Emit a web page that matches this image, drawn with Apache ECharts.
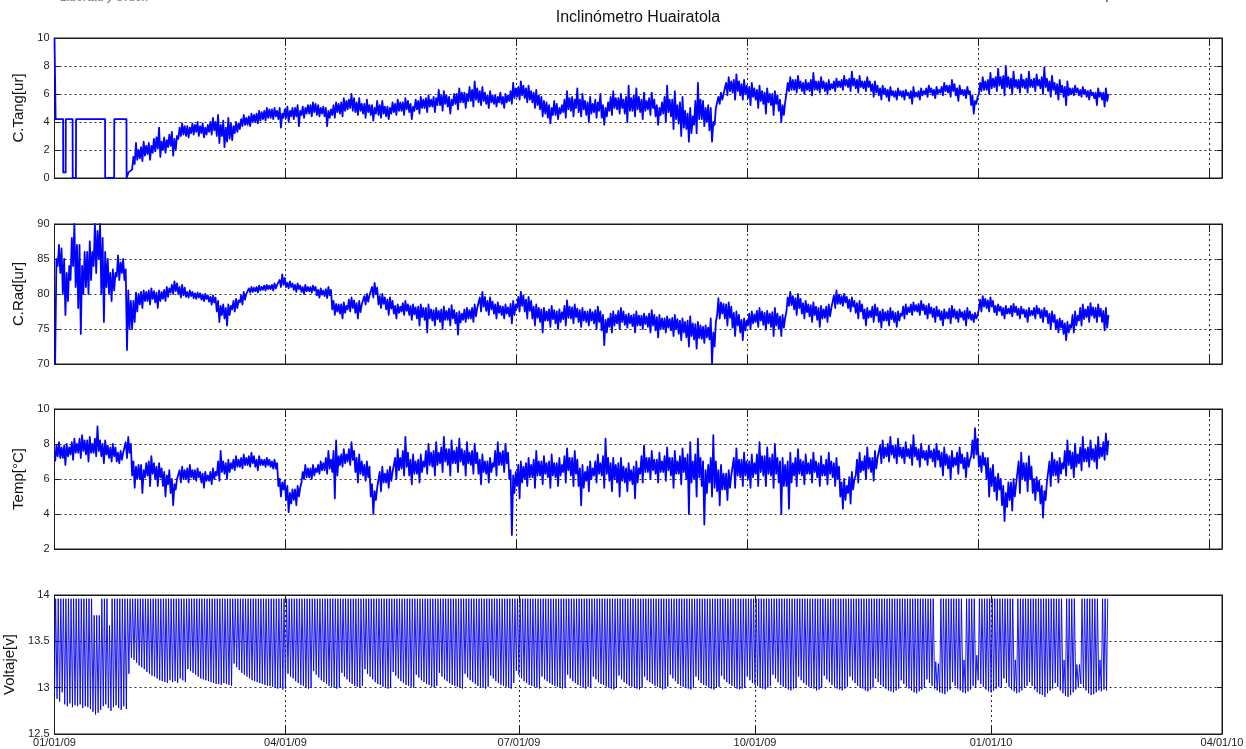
<!DOCTYPE html>
<html>
<head>
<meta charset="utf-8">
<title>Inclinómetro Huairatola</title>
<script src="https://cdn.jsdelivr.net/npm/echarts@6/dist/echarts.min.js"></script>
<style>
  html, body { margin: 0; padding: 0; background: #ffffff; }
  #chart { width: 1246px; height: 749px; }
</style>
</head>
<body>
<div id="chart"></div>
<script>
// ---- time axis: days counted from 01/01/09 ----
const xMaxDay = 455;                              // 04/01/10
const gridStepDays = 90;                          // grid spacing on the upper panels
const dateTickDays = [0, 90, 181, 273, 365, 455];
const dateTickLabels = ['01/01/09', '04/01/09', '07/01/09', '10/01/09', '01/01/10', '04/01/10'];

// ---- C.Tang[ur]: early step readings as [day, value] ----
const tangSteps = [
  [0, 10], [0.45, 10], [0.45, 4.2], [3.35, 4.2], [3.4, 0.4], [4.35, 0.4], [4.4, 4.2],
  [7.05, 4.2], [7.1, 0], [8.35, 0], [8.4, 4.2], [19.7, 4.2], [19.75, 0], [23.25, 0],
  [23.3, 4.2], [28.05, 4.2], [28.1, 0], [28.8, 0.4]
];
// C.Tang[ur] daily low / high from day 30
const tangStart = 30;
const tangValues = [
  0.6,1.5, 1.0,2.5, 1.3,2.0, 1.4,2.2, 1.2,2.6, 1.6,2.3, 1.7,2.5, 1.3,2.3, 1.8,2.8, 1.9,2.9,
  2.1,3.6, 1.5,2.6, 2.0,2.9, 1.8,2.7, 2.2,3.1, 2.3,3.3, 1.6,2.8, 2.0,3.0, 2.8,3.6, 3.0,3.9,
  3.1,3.7, 3.0,3.7, 2.9,3.6, 3.2,3.9, 3.1,3.8, 3.3,4.0, 3.0,3.7, 3.2,3.9, 2.9,3.6, 3.1,3.8,
  3.3,4.0, 3.1,4.3, 3.4,4.0, 3.0,4.5, 2.5,3.8, 3.0,4.1, 2.2,3.6, 2.6,4.3, 2.8,3.9, 2.7,3.7,
  3.2,4.0, 3.3,3.9, 3.5,4.2, 3.7,4.5, 3.8,4.3, 3.8,4.4, 3.7,4.6, 4.0,4.5, 4.0,4.6, 3.9,4.8,
  4.1,4.7, 4.2,4.8, 4.1,5.0, 4.3,4.9, 4.3,4.9, 4.2,5.0, 4.4,4.8, 4.2,5.0, 3.6,4.6, 4.3,4.9,
  4.3,5.1, 4.0,4.8, 4.4,5.0, 4.2,5.0, 4.4,5.2, 3.7,4.8, 4.5,5.1, 4.3,5.0, 4.6,5.2, 4.6,5.2,
  4.4,5.4, 4.7,5.3, 4.5,5.2, 4.4,5.0, 4.6,5.1, 4.4,5.0, 3.7,4.8, 4.3,4.9, 4.5,5.2, 4.3,5.4,
  4.7,5.3, 4.6,5.4, 4.4,5.7, 4.8,5.5, 4.9,5.6, 5.0,6.0, 4.8,5.7, 4.7,5.4, 4.5,5.7, 4.8,5.3,
  4.6,5.3, 4.3,5.6, 4.7,5.2, 4.5,5.2, 4.1,5.0, 4.6,5.5, 4.5,5.2, 4.3,5.5, 4.6,5.1, 4.4,5.1,
  4.2,5.0, 4.6,5.4, 4.7,5.3, 4.5,5.6, 4.8,5.4, 4.8,5.4, 4.5,5.7, 4.9,5.5, 4.7,5.3, 4.2,5.1,
  4.8,5.6, 4.9,5.5, 4.6,5.8, 5.0,5.6, 5.0,5.7, 4.7,5.9, 5.1,5.6, 5.1,5.8, 4.7,5.7, 5.2,6.3,
  5.2,5.9, 4.8,6.2, 5.3,5.9, 5.1,5.8, 4.6,5.6, 5.2,6.0, 5.3,6.0, 4.9,6.4, 5.4,6.1, 5.4,6.1,
  5.0,6.0, 5.5,6.5, 5.5,6.3, 5.1,6.9, 5.6,6.4, 5.4,6.2, 5.2,6.5, 5.5,6.1, 5.3,5.9, 5.0,6.2,
  5.4,5.9, 5.3,5.9, 5.1,5.8, 5.4,6.1, 5.3,5.8, 5.0,6.0, 5.4,5.9, 5.5,6.2, 5.3,6.8, 5.7,6.4,
  5.8,6.5, 5.6,6.9, 5.9,6.6, 5.7,6.4, 5.4,6.6, 5.6,6.2, 5.4,6.1, 5.0,6.3, 5.2,5.9, 4.9,5.8,
  4.4,5.5, 4.6,5.4, 4.3,5.2, 3.9,5.0, 4.5,5.5, 4.5,5.3, 4.2,5.0, 4.6,5.2, 4.7,5.6, 4.3,6.2,
  4.9,5.7, 4.8,5.8, 4.4,5.6, 5.0,6.4, 4.7,5.6, 4.4,6.0, 4.9,5.5, 4.5,5.4, 4.0,5.8, 4.6,5.3,
  4.7,5.6, 4.3,5.4, 4.8,6.0, 4.3,5.2, 3.8,5.0, 4.4,5.4, 4.8,5.8, 4.5,6.2, 5.0,5.7, 4.9,5.7,
  4.6,6.0, 5.0,5.6, 4.6,5.8, 4.0,6.6, 4.8,5.7, 4.8,5.9, 4.4,6.4, 4.9,5.8, 4.7,5.6, 4.2,6.1,
  4.8,5.5, 4.9,5.7, 4.5,6.1, 5.0,5.6, 4.4,5.2, 3.8,5.0, 4.5,5.4, 4.6,5.8, 4.0,6.6, 4.7,5.6,
  4.4,5.6, 3.5,6.2, 4.2,5.2, 3.9,5.4, 3.0,5.8, 3.6,4.8, 3.5,4.6, 2.6,5.0, 3.2,4.4, 3.8,5.5,
  3.2,6.8, 4.2,5.6, 4.2,5.5, 3.7,5.0, 4.0,5.2, 3.4,5.0, 2.6,4.0, 3.8,5.0, 5.0,5.8, 5.3,6.1,
  5.6,6.0, 6.0,6.8, 5.9,7.2, 6.2,6.9, 6.1,7.0, 5.6,7.4, 6.2,6.9, 5.9,6.7, 5.6,7.0, 6.0,6.6,
  5.7,6.5, 5.2,6.8, 5.8,6.4, 5.6,6.3, 5.0,6.6, 5.5,6.2, 5.3,6.1, 4.6,6.4, 5.4,6.0, 5.2,6.0,
  4.5,6.2, 5.3,5.9, 4.8,5.6, 4.0,5.2, 4.5,5.4, 6.0,6.8, 6.2,7.2, 6.3,7.0, 6.3,7.0, 6.1,7.3,
  6.4,6.9, 6.2,6.8, 6.0,7.0, 6.3,6.8, 6.2,7.0, 5.9,7.5, 6.3,6.9, 6.3,6.9, 6.1,7.2, 6.4,6.9,
  6.2,6.8, 6.0,7.0, 6.3,6.7, 6.4,6.9, 6.2,7.1, 6.5,6.9, 6.5,7.0, 6.3,7.3, 6.6,7.0, 6.5,7.1,
  6.2,7.6, 6.6,7.1, 6.4,7.0, 6.1,7.3, 6.5,6.9, 6.4,6.9, 6.2,7.2, 6.5,6.9, 6.2,6.7, 5.8,6.9,
  6.1,6.6, 5.9,6.4, 5.6,6.6, 6.0,6.4, 5.8,6.3, 5.5,6.5, 5.9,6.2, 5.8,6.2, 5.6,6.4, 5.9,6.2,
  5.8,6.2, 5.6,6.3, 5.9,6.1, 5.7,6.2, 5.3,6.5, 5.8,6.1, 5.8,6.2, 5.6,6.4, 5.9,6.2, 6.0,6.4,
  5.8,6.6, 6.1,6.4, 5.9,6.3, 5.7,6.5, 6.0,6.3, 6.1,6.5, 5.9,6.8, 6.2,6.6, 6.1,6.6, 5.8,7.0,
  6.2,6.7, 5.9,6.4, 5.5,6.6, 6.0,6.3, 5.9,6.3, 5.7,6.5, 6.0,6.2, 5.2,5.9, 4.6,5.5, 5.3,5.8,
  6.0,6.8, 6.2,7.2, 6.3,6.9, 6.3,7.0, 6.0,7.5, 6.4,7.1, 6.5,7.2, 6.2,7.8, 6.6,7.2, 6.4,7.3,
  5.9,8.0, 6.5,7.2, 6.4,7.1, 6.0,7.6, 6.5,7.0, 6.4,7.0, 6.1,7.4, 6.5,7.0, 6.4,7.1, 6.1,7.6,
  6.5,7.0, 6.5,7.1, 6.2,7.4, 6.6,7.0, 6.4,7.2, 6.0,7.9, 6.5,7.1, 6.2,6.9, 5.8,7.3, 6.3,6.8,
  6.0,6.7, 5.6,7.0, 6.1,6.6, 5.8,6.5, 5.2,6.9, 5.9,6.4, 6.0,6.4, 5.9,6.6, 6.1,6.4, 5.9,6.3,
  5.8,6.5, 6.0,6.3, 5.8,6.2, 5.6,6.3, 5.9,6.1, 5.7,6.1, 5.2,6.4, 5.8,6.1, 5.6,6.1, 5.1,6.4,
  5.5,6.0
];

// ---- C.Rad[ur] daily low / high from day 0 ----
const radStart = 0;
const radValues = [
  70,85, 84,87, 83,86.5, 80,85, 77,83, 79,84, 82,88, 84,90, 81,87, 78,87,
  74.3,84, 80,86, 81,86, 80,87.5, 82,86, 84,90, 83,89, 85,90, 80,88, 76,86,
  81,85, 80,83, 79,83.5, 80.5,83, 82.5,85.5, 82,84.5, 83,85, 82,83.5, 72,80.5, 75,79,
  75,79, 76,80.2, 77.5,80, 78.5,80.3, 78,80.5, 79,80.3, 79,80.5, 78.5,80.8, 79.3,80.4, 78.8,80.2,
  78,80.5, 79,80.3, 79.3,80.6, 79,81, 79.6,80.8, 80.2,81.3, 80,81.8, 80.4,81.5, 80,81, 79.5,81.3,
  79.8,80.9, 79.6,80.3, 79.5,80.5, 79.7,80.3, 79.4,80.1, 79.3,80.2, 79.5,80.1, 79.2,79.9, 79,80, 79.3,79.8,
  78.9,79.6, 78.5,79.8, 78.8,79.5, 77.5,79, 76,78.3, 77,78.5, 76.5,78, 75.5,78.5, 77,78.3, 77.8,79,
  77.5,79.3, 78,79.1, 78.8,79.8, 78.5,80.3, 79.2,80, 80,80.8, 80.2,81, 80.3,80.9, 80.4,81, 80.2,81.2,
  80.5,81, 80.6,81.2, 80.5,81.3, 80.7,81.2, 80.7,81.3, 80.5,81.5, 80.8,81.3, 81.2,82, 81,82.8, 81.3,82.3,
  81,81.6, 80.8,81.8, 81,81.5, 80.6,81.3, 80.3,81.5, 80.7,81.2, 80.3,81, 80,81.3, 80.4,81, 80.4,81,
  80.2,81.2, 80.5,81, 79.8,80.6, 79.5,80.8, 79.9,80.5, 79.7,80.7, 79.4,81, 79.8,80.6, 77.8,79, 77,78.6,
  77.5,78.5, 77.2,78.5, 76.5,78.8, 77.3,78.3, 77.8,79.2, 77.5,79.5, 78,79.1, 77.3,78.7, 76.5,79, 77.4,78.5,
  78.6,79.7, 78.5,80, 78.9,79.8, 79.8,81, 79.5,81.6, 80,80.9, 78.5,79.7, 78,80, 78.6,79.5, 77.8,79.2,
  77,79.5, 77.9,79, 77.2,78.3, 76.5,78.5, 77.3,78.2, 77.5,78.7, 77,79, 77.6,78.5, 77,78.3, 76.3,78.5,
  77.1,78.1, 76.5,78.2, 75.5,78.5, 76.7,78, 76.3,78, 74.5,78.5, 76.5,77.8, 76.2,77.7, 75.5,78, 76.4,77.6,
  76,77.8, 75,78.2, 76.3,77.6, 76.3,77.9, 75.5,78.4, 76.5,77.7, 75.8,77.3, 74.2,77.5, 75.9,77.2, 76.3,77.8,
  76,78, 76.5,77.7, 76.5,78, 76,78.5, 76.8,78, 78,79.5, 77.5,80.3, 78.2,79.6, 77.6,79, 77,79.5,
  77.8,78.9, 77.2,78.5, 76.5,78.8, 77.3,78.3, 77,78.2, 76.5,78.5, 77.2,78.1, 76.8,78.6, 75.8,79, 77,78.5,
  78,79.6, 77.5,80.3, 78.3,79.8, 77.5,79.2, 76.5,79.6, 77.6,79, 76.5,78.2, 75.5,78.5, 76.6,78, 76,77.8,
  74.5,78, 76.2,77.5, 76.2,77.8, 75.3,78.3, 76.4,77.7, 75.8,77.5, 75,77.8, 76,77.4, 76.4,78.3, 75.5,79.1,
  76.6,78.2, 76.5,78.1, 75.8,78.5, 76.7,77.9, 76,77.7, 75.3,78, 76.2,77.5, 76,77.5, 75.5,77.8, 76.2,77.4,
  75.8,77.7, 75,78.2, 76,77.5, 74.8,77, 72.7,76.3, 74.5,76.5, 75.3,77.2, 74.5,77.5, 75.5,77, 75.8,77.6,
  75,78, 76,77.5, 75.6,77, 75.2,77.2, 75.8,76.9, 75.4,77.1, 74.5,77.5, 75.5,76.9, 75.5,76.9, 75,77.2,
  75.7,76.8, 75.3,77.2, 74.5,77.7, 75.5,77, 74.8,76.7, 73.8,77, 75,76.5, 75,76.5, 74.5,76.8, 75.2,76.4,
  74.8,76.6, 74,77, 75,76.4, 74.3,76.2, 73.4,76.5, 74.5,76, 73.8,76.2, 72.5,76.8, 74,75.8, 73.5,75.7,
  72.2,76, 73.7,75.5, 73.6,75.3, 73,75.5, 73.8,75.2, 73.5,76.5, 70,74.5, 72.5,76, 77,79.4, 76.5,78.8,
  77.2,78.6, 76.5,78.5, 75.5,78.8, 76.6,78.2, 75.2,77.3, 74,77.5, 75.5,77, 74.5,76.3, 73.4,76.5, 74.8,76.2,
  75.5,77.2, 75,77.5, 75.8,77.1, 76,77.6, 75.3,78, 76.2,77.5, 75.6,77.3, 74.9,77.6, 75.8,77.2, 75.3,77.4,
  74,78, 75.5,77.2, 75,76.8, 74,77, 75.2,76.6, 77.5,79.5, 78.3,80.3, 78.4,79.7, 77.8,79.4, 77,80,
  78,79.3, 77.2,78.7, 76.5,79, 77.4,78.5, 76.8,78.4, 76,78.8, 77,78.2, 76.3,78, 75.3,78.3, 76.5,77.8,
  76.6,78.2, 76,78.5, 76.8,78, 78.2,79.8, 78,80.5, 78.6,79.9, 78.6,79.7, 78.3,80, 78.8,79.6, 78,79.2,
  77.5,79.5, 78.2,79, 77.3,78.7, 76.5,79, 77.5,78.5, 76.5,77.8, 75.5,78, 76.6,77.6, 76.7,78.2, 76,78.5,
  76.9,78, 76,77.5, 75.2,77.8, 76.2,77.4, 76.2,77.6, 75.5,78, 76.4,77.5, 76,77.3, 75.3,77.5, 76.2,77.2,
  76.9,78.2, 76.5,78.5, 77.1,78.1, 77.4,78.5, 77,78.8, 77.6,78.4, 77.5,78.6, 77,79, 77.7,78.5, 77.1,78.3,
  76.5,78.6, 77.2,78.1, 76.7,77.9, 76,78.2, 76.8,77.7, 76.3,77.5, 75.5,77.8, 76.5,77.4, 76.5,77.9, 75.8,78.3,
  76.7,77.8, 76.5,77.5, 76,77.8, 76.7,77.4, 76.3,77.6, 75.5,78, 76.5,77.5, 76.3,77.1, 76,77.3, 76.5,77,
  77.8,79.2, 77.5,79.7, 78.2,79.3, 78,79.1, 77.5,79.5, 78.2,79, 77.4,78.3, 77,78.5, 77.6,78.2, 77,78,
  76.5,78.3, 77.2,77.9, 77.2,78.3, 76.8,78.6, 77.4,78.2, 77,77.9, 76.5,78.2, 77.2,77.8, 76.7,77.7, 76,78,
  76.9,77.6, 77,78, 76.5,78.3, 77.2,77.9, 76.6,77.7, 76,78, 76.8,77.6, 75.8,77.2, 75,77.5, 76,77,
  75,76.3, 74.5,76.5, 75.2,76.2, 74.3,75.8, 73.4,76, 74.5,75.6, 75.2,77, 74.5,77.5, 75.5,76.9, 76.2,78,
  75.5,78.5, 76.4,77.8, 76.7,78.2, 76,78.7, 76.9,78.1, 76.6,78, 76,78.5, 76.8,77.9, 76,77.6, 74.8,78,
  75.2,77
];

// ---- Temp[°C] daily low / high from day 0 ----
const tempStart = 0;
const tempValues = [
  7.0,7.9, 7.3,8.1, 7.2,7.8, 7.2,7.9, 6.8,8.0, 7.3,7.8, 7.4,8.1, 7.1,8.3, 7.5,8.0, 7.5,8.3,
  7.2,8.5, 7.6,8.2, 7.4,8.2, 7.0,8.4, 7.5,8.0, 7.5,8.3, 7.3,9.0, 7.6,8.2, 7.3,8.0, 6.9,8.2,
  7.4,7.9, 7.2,7.8, 7.0,8.0, 7.3,7.8, 7.0,7.5, 6.9,7.6, 7.1,7.5, 7.4,8.1, 7.2,8.4, 7.5,8.0,
  6.2,7.0, 5.5,6.7, 6.0,6.8, 6.0,6.8, 5.2,6.5, 6.1,6.9, 6.2,7.0, 5.6,7.3, 6.3,6.9, 6.0,6.7,
  5.6,6.9, 6.1,6.6, 5.6,6.4, 5.0,6.2, 5.7,6.5, 5.2,6.0, 4.5,5.7, 5.4,6.0, 5.9,6.5, 5.8,6.7,
  6.0,6.5, 6.0,6.6, 5.8,6.8, 6.1,6.5, 6.0,6.5, 5.9,6.6, 6.1,6.4, 5.8,6.3, 5.5,6.4, 5.9,6.2,
  5.9,6.4, 5.7,6.6, 6.0,6.4, 6.2,7.0, 5.9,7.6, 6.4,7.0, 6.3,6.9, 6.0,7.1, 6.4,6.9, 6.6,7.1,
  6.5,7.3, 6.7,7.1, 6.7,7.2, 6.6,7.4, 6.8,7.2, 6.8,7.3, 6.7,7.5, 6.9,7.3, 6.7,7.1, 6.5,7.3,
  6.8,7.1, 6.8,7.1, 6.7,7.2, 6.8,7.1, 6.7,7.0, 6.6,7.1, 6.6,6.9, 5.6,6.0, 5.0,5.8, 5.4,5.9,
  4.8,5.6, 4.1,5.2, 4.6,5.4, 4.8,5.4, 4.5,5.6, 5.0,5.5, 5.8,6.4, 6.0,6.8, 6.1,6.6, 6.1,6.6,
  6.0,6.8, 6.2,6.6, 6.4,6.8, 6.3,7.0, 6.5,6.9, 6.5,7.2, 6.3,7.6, 6.6,7.1, 6.4,7.6, 4.9,8.2,
  6.2,7.3, 6.8,7.4, 6.7,7.7, 6.9,7.4, 7.0,7.7, 6.8,8.1, 7.1,7.6, 6.4,7.2, 5.8,7.4, 6.3,7.0,
  6.2,6.8, 5.9,7.0, 6.1,6.7, 5.0,5.7, 4.0,5.3, 4.8,5.5, 5.6,6.4, 5.3,6.7, 5.8,6.3, 5.8,6.5,
  5.5,6.7, 5.9,6.4, 6.3,7.2, 6.0,7.7, 6.5,7.2, 6.6,7.6, 6.2,8.4, 6.7,7.5, 6.2,7.1, 5.7,7.4,
  6.3,7.0, 6.3,7.1, 5.8,7.4, 6.4,7.0, 6.7,7.6, 6.3,8.0, 6.8,7.5, 6.7,7.6, 6.2,8.1, 6.8,7.5,
  6.9,7.8, 6.4,8.4, 7.0,7.7, 6.8,7.7, 6.2,8.2, 6.9,7.6, 6.9,7.8, 6.4,8.3, 7.0,7.7, 6.8,7.6,
  6.2,8.1, 6.9,7.5, 6.8,7.6, 6.3,8.0, 6.9,7.5, 6.3,7.1, 5.7,7.4, 6.4,7.0, 6.3,7.0, 5.8,7.2,
  6.4,6.9, 6.7,7.6, 6.2,8.1, 6.8,7.5, 6.8,7.6, 6.4,8.0, 6.9,7.5, 6.0,6.5, 2.8,6.2, 5.2,6.4,
  5.6,6.8, 4.9,7.0, 5.8,6.7, 6.0,6.9, 5.6,7.2, 6.1,6.8, 6.1,7.1, 5.5,7.6, 6.2,7.0, 6.2,7.0,
  5.7,7.3, 6.3,6.9, 6.1,7.0, 5.5,7.4, 6.2,6.9, 6.1,6.9, 5.6,7.2, 6.2,6.8, 6.4,7.3, 5.8,7.75,
  6.5,7.2, 6.2,7.2, 5.6,7.6, 6.3,7.1, 5.6,6.6, 4.5,6.8, 5.5,6.4, 5.9,6.7, 5.3,7.0, 6.0,6.6,
  6.2,7.0, 5.8,7.4, 6.3,6.9, 6.2,7.3, 5.5,8.3, 6.3,7.2, 5.9,6.9, 5.3,7.2, 6.0,6.8, 5.8,6.9,
  5.0,7.2, 5.9,6.7, 5.8,6.6, 5.3,6.9, 5.9,6.5, 5.7,6.7, 4.9,7.0, 5.8,6.6, 6.3,7.3, 5.8,7.9,
  6.4,7.2, 6.4,7.2, 6.0,7.6, 6.5,7.1, 6.3,7.1, 5.8,7.5, 6.4,7.0, 6.4,7.3, 5.9,7.8, 6.5,7.2,
  6.2,7.2, 5.5,7.6, 6.3,7.0, 6.3,7.3, 5.7,7.75, 6.4,7.2, 6.0,7.4, 4.0,8.1, 5.8,7.0, 6.0,7.4,
  5.0,8.3, 6.1,7.2, 5.6,7.0, 3.4,6.5, 5.2,6.8, 5.8,7.2, 5.0,8.5, 5.5,7.0, 5.3,6.5, 4.5,6.8,
  5.4,6.3, 5.4,6.3, 4.8,6.5, 5.5,6.2, 6.1,7.2, 5.5,7.75, 6.2,7.1, 6.1,7.1, 5.6,7.5, 6.2,7.0,
  6.0,7.0, 5.5,7.4, 6.1,6.9, 6.3,7.4, 5.6,8.1, 6.4,7.3, 6.2,7.3, 5.6,7.8, 6.3,7.2, 6.2,7.4,
  5.5,8.0, 6.3,7.2, 5.8,7.0, 4.0,7.2, 5.6,6.8, 5.6,7.0, 4.3,7.5, 5.8,6.9, 6.2,7.2, 5.6,7.7,
  6.3,7.1, 6.2,7.0, 5.7,7.4, 6.3,6.9, 6.3,7.1, 5.8,7.5, 6.4,7.0, 6.1,6.9, 5.6,7.3, 6.2,6.8,
  6.2,7.1, 5.7,7.5, 6.3,7.0, 6.1,6.9, 5.6,7.2, 6.0,6.7, 5.0,5.8, 4.3,6.0, 4.8,5.6, 5.2,6.1,
  4.6,6.4, 5.4,6.0, 6.2,7.1, 5.8,7.5, 6.4,7.0, 6.5,7.3, 6.0,7.8, 6.6,7.2, 6.4,7.2, 5.9,7.6,
  6.6,7.2, 7.1,7.9, 6.9,8.2, 7.2,7.8, 7.3,8.0, 7.0,8.4, 7.4,7.9, 7.2,7.9, 6.9,8.3, 7.3,7.8,
  7.2,7.8, 6.9,8.1, 7.3,7.7, 7.2,7.9, 6.8,8.5, 7.3,7.8, 7.1,7.7, 6.7,8.0, 7.2,7.6, 7.1,7.6,
  6.8,7.9, 7.2,7.6, 7.0,7.7, 6.7,8.0, 7.1,7.6, 6.7,7.5, 6.2,7.8, 6.8,7.4, 6.6,7.3, 6.0,7.6,
  6.7,7.2, 6.8,7.5, 6.3,7.8, 6.9,7.4, 6.6,7.2, 6.1,7.5, 6.7,7.1, 7.3,8.2, 7.2,8.9, 7.4,8.3,
  6.7,7.3, 6.4,7.5, 6.8,7.2, 6.0,7.2, 5.0,6.6, 5.6,6.8, 5.3,6.1, 4.8,6.3, 5.4,6.0, 4.5,5.6,
  3.6,5.2, 4.4,5.8, 4.8,5.8, 4.2,6.0, 5.0,5.7, 5.8,7.0, 5.2,7.5, 6.0,6.9, 5.9,6.9, 5.3,7.3,
  6.0,6.7, 5.2,6.0, 4.8,6.1, 5.3,5.9, 4.6,5.6, 3.8,5.3, 4.8,5.8, 5.9,7.0, 5.6,7.5, 6.2,7.1,
  6.2,7.0, 5.8,7.2, 6.3,6.9, 6.6,7.6, 6.2,8.2, 6.8,7.6, 6.6,7.5, 6.1,8.0, 6.7,7.4, 6.9,7.8,
  6.5,8.4, 7.0,7.7, 7.0,7.8, 6.7,8.2, 7.1,7.7, 7.0,7.9, 6.6,8.4, 7.2,7.8, 7.3,8.1, 7.1,8.6,
  7.4,8.2
];

// ---- Voltaje[v]: daily low and daily charge peak, day 0 to day 410 ----
const voltLow = [
  12.92,12.88,12.85,12.95,12.82,12.80,12.83,12.79,12.81,12.80,
  12.82,12.78,12.80,12.79,12.77,12.74,12.71,12.73,12.76,12.80,
  12.82,12.78,12.75,12.79,12.81,12.78,12.76,12.80,12.77,13.15,
  13.32,13.30,13.27,13.24,13.22,13.20,13.17,13.15,13.13,13.12,
  13.10,13.08,13.07,13.06,13.05,13.08,13.06,13.07,13.05,13.10,
  13.08,13.06,13.20,13.18,13.16,13.14,13.12,13.10,13.09,13.08,
  13.07,13.06,13.05,13.04,13.04,13.03,13.05,13.04,13.03,13.02,
  13.26,13.22,13.19,13.16,13.14,13.12,13.10,13.08,13.07,13.06,
  13.05,13.04,13.03,13.02,13.02,13.01,13.00,12.99,13.00,12.98,
  12.99,13.15,13.12,13.10,13.07,13.05,13.03,13.02,13.00,12.99,
  13.00,13.18,13.14,13.11,13.08,13.06,13.04,13.02,13.01,13.00,
  12.99,13.00,13.16,13.12,13.09,13.06,13.04,13.02,13.01,13.00,
  13.02,13.20,13.15,13.12,13.09,13.06,13.04,13.03,13.01,13.00,
  12.99,13.00,13.17,13.13,13.10,13.07,13.05,13.03,13.02,13.01,
  13.00,13.14,13.11,13.08,13.06,13.04,13.03,13.01,13.00,13.02,
  13.16,13.12,13.09,13.07,13.05,13.03,13.02,13.01,13.00,12.99,
  13.15,13.11,13.08,13.06,13.04,13.02,13.01,13.00,12.99,13.01,
  13.13,13.10,13.07,13.05,13.03,13.02,13.01,13.00,12.99,13.05,
  13.18,13.14,13.10,13.07,13.05,13.03,13.02,13.01,13.00,12.99,
  13.12,13.09,13.07,13.05,13.03,13.02,13.01,13.00,12.99,13.00,
  13.14,13.10,13.07,13.05,13.03,13.02,13.00,12.99,13.01,13.00,
  13.12,13.09,13.06,13.04,13.03,13.01,13.00,12.99,12.98,13.00,
  13.13,13.09,13.06,13.04,13.02,13.01,13.00,12.99,12.98,13.00,
  13.12,13.08,13.06,13.04,13.02,13.01,13.00,12.98,12.99,13.01,
  13.14,13.10,13.07,13.04,13.02,13.01,13.00,12.99,12.98,13.00,
  13.12,13.08,13.05,13.03,13.02,13.00,12.99,12.98,13.00,13.01,
  13.13,13.09,13.06,13.04,13.02,13.01,12.99,12.98,12.99,13.00,
  13.12,13.08,13.05,13.03,13.02,13.00,12.99,12.98,13.00,13.02,
  13.14,13.10,13.06,13.03,13.01,13.00,12.98,12.97,12.99,13.00,
  13.12,13.08,13.05,13.03,13.01,13.00,12.99,12.97,12.98,13.00,
  13.13,13.09,13.06,13.03,13.01,12.99,12.98,12.97,12.99,13.01,
  13.12,13.08,13.05,13.02,13.00,12.99,12.97,12.96,12.98,13.00,
  13.10,13.06,13.03,13.01,12.99,12.97,12.96,12.95,12.97,12.99,
  13.08,13.04,13.01,12.99,12.97,12.95,12.94,12.96,12.98,13.00,
  13.09,13.05,13.02,12.99,12.97,12.95,12.94,12.93,12.96,12.98,
  13.06,13.02,12.99,12.97,12.95,12.94,12.96,12.98,13.02,13.00,
  13.08,13.04,13.01,12.98,12.96,12.95,12.97,12.99,13.01,13.00,
  13.10,13.05,13.01,12.98,12.96,12.94,12.95,12.97,13.00,13.02,
  13.06,13.02,12.98,12.95,12.93,12.92,12.90,12.94,12.97,12.99,
  13.05,13.01,12.97,12.94,12.91,12.90,12.92,12.95,12.98,13.00,
  13.04,13.00,12.97,12.94,12.92,12.93,12.95,12.97,12.96,12.98,
  12.97
];
const voltPeak = [
  13.96,13.96,13.96,13.96,13.96,13.96,13.96,13.96,13.96,13.96,
  13.96,13.96,13.96,13.96,13.96,13.78,13.78,13.78,13.96,13.96,
  13.96,13.67,13.96,13.96,13.96,13.96,13.96,13.96,13.96,13.96,
  13.96,13.96,13.96,13.96,13.96,13.96,13.96,13.96,13.96,13.96,
  13.96,13.96,13.96,13.96,13.96,13.96,13.96,13.96,13.96,13.96,
  13.96,13.96,13.96,13.96,13.96,13.96,13.96,13.96,13.96,13.96,
  13.96,13.96,13.96,13.96,13.96,13.96,13.96,13.96,13.96,13.96,
  13.96,13.96,13.96,13.96,13.96,13.96,13.96,13.96,13.96,13.96,
  13.96,13.96,13.96,13.96,13.96,13.96,13.96,13.96,13.96,13.96,
  13.96,13.96,13.96,13.96,13.96,13.96,13.96,13.96,13.96,13.96,
  13.96,13.96,13.96,13.96,13.96,13.96,13.96,13.96,13.96,13.96,
  13.96,13.96,13.96,13.96,13.96,13.96,13.96,13.96,13.96,13.96,
  13.96,13.96,13.96,13.96,13.96,13.96,13.96,13.96,13.96,13.96,
  13.96,13.96,13.96,13.96,13.96,13.96,13.96,13.96,13.96,13.96,
  13.96,13.96,13.96,13.96,13.96,13.96,13.96,13.96,13.96,13.96,
  13.96,13.96,13.96,13.96,13.96,13.96,13.96,13.96,13.96,13.96,
  13.96,13.96,13.96,13.96,13.96,13.96,13.96,13.96,13.96,13.96,
  13.96,13.96,13.96,13.96,13.96,13.96,13.96,13.96,13.96,13.96,
  13.96,13.96,13.96,13.96,13.96,13.96,13.96,13.96,13.96,13.96,
  13.96,13.96,13.96,13.96,13.96,13.96,13.96,13.96,13.96,13.96,
  13.96,13.96,13.96,13.96,13.96,13.96,13.96,13.96,13.96,13.96,
  13.96,13.96,13.96,13.96,13.96,13.96,13.96,13.96,13.96,13.96,
  13.96,13.96,13.96,13.96,13.96,13.96,13.96,13.96,13.96,13.96,
  13.96,13.96,13.96,13.96,13.96,13.96,13.96,13.96,13.96,13.96,
  13.96,13.96,13.96,13.96,13.96,13.96,13.96,13.96,13.96,13.96,
  13.96,13.96,13.96,13.96,13.96,13.96,13.96,13.96,13.96,13.96,
  13.96,13.96,13.96,13.96,13.96,13.96,13.96,13.96,13.96,13.96,
  13.96,13.96,13.96,13.96,13.96,13.96,13.96,13.96,13.96,13.96,
  13.96,13.96,13.96,13.96,13.96,13.96,13.96,13.96,13.96,13.96,
  13.96,13.96,13.96,13.96,13.96,13.96,13.96,13.96,13.96,13.96,
  13.96,13.96,13.96,13.96,13.96,13.96,13.96,13.96,13.96,13.96,
  13.96,13.96,13.96,13.96,13.96,13.96,13.96,13.96,13.96,13.96,
  13.96,13.96,13.96,13.96,13.96,13.96,13.96,13.96,13.96,13.96,
  13.96,13.96,13.96,13.96,13.96,13.96,13.96,13.96,13.96,13.96,
  13.96,13.96,13.96,13.28,13.26,13.96,13.96,13.96,13.96,13.96,
  13.96,13.96,13.96,13.96,13.30,13.96,13.96,13.96,13.96,13.35,
  13.96,13.96,13.96,13.96,13.96,13.96,13.96,13.96,13.96,13.96,
  13.96,13.96,13.96,13.96,13.30,13.96,13.96,13.96,13.96,13.96,
  13.96,13.96,13.96,13.96,13.96,13.96,13.96,13.96,13.96,13.96,
  13.96,13.96,13.96,13.30,13.96,13.96,13.96,13.96,13.25,13.25,
  13.96,13.96,13.96,13.96,13.96,13.96,13.96,13.30,13.96,13.96,
  13.96
];

// ---- build [day, value] series ----
function sampled(values, startDay, stepDays) {
  return values.map((v, i) => [startDay + stepDays * (i + 0.5), v]);
}
function dailyCycle(lows, peaks) {
  const out = [];
  lows.forEach((lo, d) => {
    out.push([d, lo]);
    out.push([d + 0.45, peaks[d]]);
  });
  return out;
}

const tangData = tangSteps.concat(sampled(tangValues, tangStart, 0.5));
const radData = sampled(radValues, radStart, 0.5);
const tempData = sampled(tempValues, tempStart, 0.5);
const voltData = dailyCycle(voltLow, voltPeak);

// ---- layout and styling ----
const FONT = '"Liberation Sans", Arial, Helvetica, sans-serif';
const dotted = { color: '#2a2a2a', width: 1, type: [2, 3] };
const frameColor = '#1a1a1a';

const panels = [
  { top: 38,  height: 140, yMin: 0,    yMax: 10, yStep: 2,   name: 'C.Tang[ur]', data: tangData, width: 1.8, color: '#0000ff', dates: false },
  { top: 224, height: 140, yMin: 70,   yMax: 90, yStep: 5,   name: 'C.Rad[ur]',  data: radData,  width: 1.8, color: '#0000ff', dates: false },
  { top: 409, height: 140, yMin: 2,    yMax: 10, yStep: 2,   name: 'Temp[°C]',   data: tempData, width: 1.8, color: '#0000ff', dates: false },
  { top: 595, height: 139, yMin: 12.5, yMax: 14, yStep: 0.5, name: 'Voltaje[v]', data: voltData, width: 0.9, color: '#0000e6', dates: true  }
];

const grids = [], xAxes = [], yAxes = [], series = [];
const n = panels.length;

panels.forEach((p, i) => {
  grids.push({
    left: 54.5, right: 24, top: p.top, height: p.height,
    show: true, borderColor: frameColor, borderWidth: 1,
    backgroundColor: '#ffffff', outerBoundsMode: 'none', containLabel: false
  });

  const tickCommon = { show: true, inside: true, length: 8, lineStyle: { color: frameColor, width: 1 } };
  const bottomX = {
    type: 'value', gridIndex: i, position: 'bottom', min: 0, max: xMaxDay,
    axisLine: { show: true, onZero: false, lineStyle: { color: frameColor, width: 1 } },
    axisTick: Object.assign({}, tickCommon),
    axisLabel: { show: false },
    splitLine: { show: true, lineStyle: dotted }
  };
  const topX = {
    type: 'value', gridIndex: i, position: 'top', min: 0, max: xMaxDay,
    axisLine: { show: true, onZero: false, lineStyle: { color: frameColor, width: 1 } },
    axisTick: Object.assign({}, tickCommon),
    axisLabel: { show: false },
    splitLine: { show: false }
  };
  if (p.dates) {
    bottomX.axisTick.customValues = dateTickDays;
    topX.axisTick.customValues = dateTickDays;
    bottomX.axisLabel = {
      show: true, customValues: dateTickDays, margin: 3,
      fontFamily: FONT, fontSize: 11, color: '#222',
      showMinLabel: true, showMaxLabel: true,
      formatter: v => dateTickLabels[dateTickDays.indexOf(v)] || ''
    };
  } else {
    bottomX.interval = gridStepDays;
    topX.interval = gridStepDays;
  }
  xAxes[i] = bottomX;
  xAxes[n + i] = topX;

  const yTick = { show: true, inside: true, length: 5, lineStyle: { color: frameColor, width: 1 } };
  yAxes[i] = {
    type: 'value', gridIndex: i, position: 'left',
    min: p.yMin, max: p.yMax, interval: p.yStep,
    name: p.name, nameLocation: 'middle', nameGap: 22,
    nameTextStyle: { fontFamily: FONT, fontSize: 15, color: '#111' },
    axisLine: { show: true, onZero: false, lineStyle: { color: frameColor, width: 1 } },
    axisTick: yTick,
    axisLabel: { show: true, fontFamily: FONT, fontSize: 11, color: '#222', margin: 5,
                 showMinLabel: true, showMaxLabel: true },
    splitLine: { show: true, lineStyle: dotted }
  };
  yAxes[n + i] = {
    type: 'value', gridIndex: i, position: 'right',
    min: p.yMin, max: p.yMax, interval: p.yStep,
    axisLine: { show: true, onZero: false, lineStyle: { color: frameColor, width: 1 } },
    axisTick: Object.assign({}, yTick),
    axisLabel: { show: false },
    splitLine: { show: false }
  };

  series.push({
    type: 'line', xAxisIndex: i, yAxisIndex: i,
    data: p.data, showSymbol: false, symbol: 'none',
    clip: true, animation: false, silent: true,
    lineStyle: { color: p.color, width: p.width, join: 'round' }
  });
});

const chart = echarts.init(document.getElementById('chart'), null, { renderer: 'canvas' });
chart.setOption({
  animation: false,
  backgroundColor: '#ffffff',
  grid: grids,
  xAxis: xAxes,
  yAxis: yAxes,
  series: series,
  graphic: [
    { type: 'text', style: { x: 638, y: 18, text: 'Inclinómetro Huairatola', fontFamily: FONT,
      fontSize: 16, fill: '#111', align: 'center', verticalAlign: 'middle' } },
    { type: 'text', style: { x: 60, y: -2, text: 'Libertad y Orden', fontFamily: FONT,
      fontSize: 11, fontWeight: 'bold', fill: '#8a8a8a', align: 'left', verticalAlign: 'middle' } },
    { type: 'text', style: { x: 1086, y: -5, text: 'República de Chile', fontFamily: FONT,
      fontSize: 15, fill: '#444', align: 'left', verticalAlign: 'middle' } }
  ]
});
</script>
</body>
</html>
